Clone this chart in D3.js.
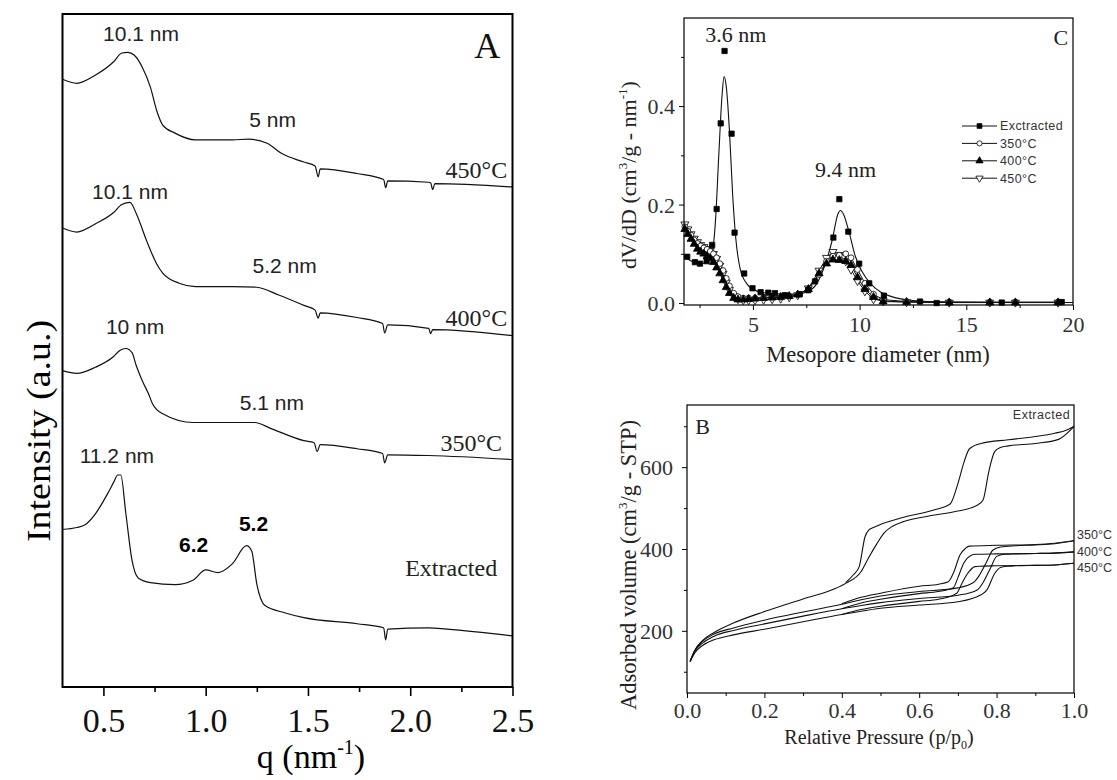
<!DOCTYPE html>
<html><head><meta charset="utf-8">
<script src="https://cdn.jsdelivr.net/npm/d3@7"></script>
<style>body{margin:0;background:#fff}svg{display:block}</style>
</head><body>
<script>
// ---------- Panel A : SAXS (q, intensity a.u., stacked) ----------
const q450 = [0.30,0.37,0.46,0.55,0.59,0.62,0.65,0.69,0.73,0.76,0.79,0.85,0.95,1.13,1.21,1.30,1.37,1.48,1.535,1.55,1.56,1.74,1.87,1.88,1.89,2.09,2.10,2.11,2.12,2.50];
const i450 = [90.3,89.7,90.9,92.9,94.2,94.3,93.9,92.1,89.1,85.7,83.5,82.3,81.3,81.3,81.4,80.8,79.3,78.0,77.4,75.8,77.0,76.3,75.4,74.2,75.2,75.0,74.9,73.9,74.8,74.3];
const q400 = [0.30,0.37,0.46,0.55,0.59,0.63,0.66,0.71,0.76,0.79,0.87,0.95,1.13,1.25,1.36,1.48,1.535,1.55,1.56,1.74,1.865,1.875,1.89,2.09,2.10,2.11,2.50];
const i400 = [68.2,67.6,68.8,70.5,71.7,72.0,70.4,66.4,62.9,61.5,60.0,59.5,59.5,59.4,58.2,56.7,56.0,54.8,55.6,54.9,54.0,52.6,53.8,53.3,52.5,53.1,52.2];
const q350 = [0.30,0.37,0.46,0.55,0.58,0.61,0.64,0.66,0.69,0.72,0.74,0.79,0.94,1.24,1.32,1.48,1.53,1.545,1.56,1.74,1.865,1.875,1.89,2.09,2.50];
const i350 = [47.0,46.6,47.5,49.1,50.0,50.3,49.7,47.8,45.5,43.6,42.1,40.6,39.3,39.3,38.4,36.6,36.3,35.0,36.0,35.4,34.7,33.3,34.5,34.4,33.8];
const qExt = [0.30,0.37,0.41,0.46,0.52,0.55,0.57,0.585,0.61,0.64,0.67,0.73,0.85,0.94,1.00,1.06,1.13,1.20,1.225,1.25,1.29,1.39,1.48,1.74,1.87,1.88,1.89,2.09,2.18,2.50];
const iExt = [23.4,23.7,24.1,25.7,28.7,30.4,31.5,31.5,25.7,18.8,16.2,15.5,15.2,15.9,17.4,17.0,18.3,21.0,20.2,15.3,12.1,11.0,10.3,9.4,8.8,7.0,8.6,8.8,8.6,7.6];
const aTicks = [0.5,1.0,1.5,2.0,2.5];
const aMinor = [0.75,1.25,1.75,2.25];

// ---------- Panel C : pore size distribution ----------
const extD = [1.92,2.28,2.52,2.83,3.09,3.30,3.49,3.67,4.00,4.14,4.59,4.98,5.36,5.72,6.03,6.50,7.20,7.59,7.91,8.77,9.05,9.47,9.98,10.45,11.14,12.83,13.61,16.66,19.47];
const extV = [0.094,0.083,0.080,0.085,0.118,0.191,0.365,0.512,0.344,0.143,0.060,0.030,0.022,0.021,0.020,0.016,0.018,0.026,0.044,0.133,0.211,0.145,0.080,0.040,0.015,0.003,0.000,0.001,0.002];
const fitD = [1.77,2.0,2.3,2.6,2.9,3.1,3.25,3.4,3.55,3.65,3.75,3.9,4.05,4.2,4.4,4.7,5.0,5.5,6.0,7.0,7.5,8.0,8.4,8.7,9.0,9.1,9.25,9.5,9.8,10.1,10.5,11.0,11.5,12.5,14,17,20];
const fitV = [0.095,0.088,0.082,0.080,0.085,0.105,0.17,0.30,0.42,0.46,0.44,0.35,0.22,0.13,0.07,0.04,0.028,0.021,0.019,0.018,0.022,0.040,0.080,0.125,0.183,0.188,0.180,0.145,0.095,0.065,0.040,0.022,0.013,0.005,0.002,0.001,0.001];
const sD = [1.81,1.95,2.1,2.25,2.4,2.55,2.7,2.85,3.0,3.15,3.3,3.45,3.6,3.75,3.9,4.1,4.3,4.55,4.8,5.1,5.5,5.9,6.3,6.7,7.1,7.6,8.1,8.45,8.75,9.05,9.35,9.6,9.9,10.25,10.65,11.1,12.2,14.2,16.1,17.3,19.3];
const s350V = [0.155,0.146,0.138,0.128,0.121,0.116,0.112,0.109,0.105,0.100,0.092,0.080,0.066,0.050,0.035,0.020,0.013,0.010,0.010,0.010,0.011,0.012,0.012,0.014,0.017,0.028,0.058,0.085,0.095,0.097,0.100,0.092,0.068,0.040,0.018,0.007,0.003,0.002,0.002,0.002,0.002];
const s400V = [0.150,0.140,0.130,0.120,0.110,0.104,0.100,0.095,0.090,0.083,0.072,0.060,0.046,0.032,0.020,0.010,0.007,0.007,0.008,0.009,0.010,0.011,0.012,0.014,0.017,0.028,0.060,0.080,0.088,0.087,0.085,0.077,0.052,0.028,0.012,0.003,0.002,0.001,0.001,0.001,0.001];
const s450V = [0.160,0.150,0.140,0.131,0.124,0.118,0.114,0.110,0.106,0.100,0.090,0.076,0.060,0.042,0.027,0.014,0.008,0.006,0.006,0.006,0.007,0.008,0.009,0.012,0.016,0.030,0.066,0.092,0.104,0.098,0.085,0.068,0.045,0.024,0.008,0.004,0.002,0.001,0.001,0.001,0.001];
const cLegend = ["Exctracted","350°C","400°C","450°C"];
const cXTicks = [5,10,15,20], cXMinor = [2.5,7.5,12.5,17.5];
const cYTicks = [0,0.2,0.4], cYMinor = [0.1,0.3,0.5];

// ---------- Panel B : N2 isotherms ----------
const pExtAds = [0.008,0.02,0.04,0.07,0.12,0.2,0.3,0.38,0.41,0.45,0.47,0.49,0.51,0.53,0.56,0.64,0.69,0.75,0.765,0.78,0.795,0.81,0.83,0.9,0.96,0.99,1.0];
const vExtAds = [125,152,176,196,219,247,278,302,316,345,380,412,440,455,467,483,491,507,520,590,638,648,652,658,668,690,700];
const pExtDes = [0.41,0.43,0.445,0.46,0.47,0.48,0.50,0.55,0.64,0.68,0.70,0.715,0.73,0.76,0.83,0.9,0.95,0.98,1.0];
const vExtDes = [318,337,357,430,447,452,460,475,496,510,560,610,645,658,667,675,683,690,700];
const p350Ads = [0.008,0.02,0.04,0.07,0.12,0.2,0.3,0.4,0.45,0.5,0.6,0.7,0.74,0.755,0.775,0.79,0.81,0.85,0.9,0.95,1.0];
const v350Ads = [125,152,174,192,207,226,246,265,276,285,296,305,318,335,370,397,405,408,410,413,420];
const p350Des = [0.40,0.45,0.5,0.6,0.65,0.675,0.69,0.705,0.72,0.73,0.8,0.9,0.95,1.0];
const v350Des = [266,282,292,309,314,320,345,385,402,407,409,411,414,420];
const p400Ads = [0.008,0.02,0.04,0.07,0.12,0.2,0.3,0.4,0.45,0.5,0.6,0.7,0.75,0.765,0.785,0.80,0.82,0.85,0.9,0.95,1.0];
const v400Ads = [125,150,170,187,201,217,236,254,262,269,279,287,300,318,355,382,387,388,389,390,393];
const p400Des = [0.40,0.45,0.5,0.6,0.65,0.688,0.70,0.715,0.735,0.745,0.8,0.9,0.95,1.0];
const v400Des = [254,268,277,291,296,305,330,365,385,387,388,389,390,393];
const p450Ads = [0.008,0.02,0.04,0.07,0.12,0.2,0.3,0.4,0.45,0.5,0.6,0.7,0.76,0.775,0.795,0.81,0.83,0.85,0.9,0.95,1.0];
const v450Ads = [125,146,164,178,190,204,222,240,248,255,263,271,288,300,340,355,358,359,360,361,365];
const p450Des = [0.40,0.45,0.5,0.6,0.65,0.697,0.71,0.725,0.744,0.755,0.8,0.9,0.95,1.0];
const v450Des = [240,252,260,272,277,292,315,340,357,358,359,360,361,365];
const bXTicks = [0,0.2,0.4,0.6,0.8,1.0], bXMinor = [0.1,0.3,0.5,0.7,0.9];
const bYTicks = [200,400,600], bYMinor = [100,300,500,700];

// =====================================================
const SERIF = "'Liberation Serif','Times New Roman',serif";
const SANS = "'Liberation Sans',Arial,sans-serif";
const zip = (a,b) => a.map((v,i)=>[v,b[i]]);
const svg = d3.select("body").append("svg").attr("width",1117).attr("height",780);
svg.append("rect").attr("width",1117).attr("height",780).attr("fill","#fff");

function axes(g, x, y, o) {
  const [x0,x1] = x.range(), [y0,y1] = y.range();
  // bottom
  const b = g.append("g").attr("transform",`translate(0,${y0})`);
  b.call(d3.axisBottom(x).tickValues(o.xt).tickSize(o.maj).tickFormat(o.xf));
  b.call(s=>s.select(".domain").remove());
  b.selectAll(".tick line").attr("stroke","#000").attr("stroke-width",o.tw);
  b.selectAll(".tick text").attr("y",o.xly).attr("dy",null)
    .style("font-family",SERIF).style("font-size",o.fs+"px").attr("fill",o.tc);
  const bm = g.append("g").attr("transform",`translate(0,${y0})`);
  bm.call(d3.axisBottom(x).tickValues(o.xm).tickSize(o.min).tickFormat(""));
  bm.call(s=>s.select(".domain").remove());
  bm.selectAll(".tick line").attr("stroke","#000").attr("stroke-width",o.tw);
  if (o.yt) {
    const l = g.append("g").attr("transform",`translate(${x0},0)`);
    l.call(d3.axisLeft(y).tickValues(o.yt).tickSize(o.maj).tickFormat(o.yf));
    l.call(s=>s.select(".domain").remove());
    l.selectAll(".tick line").attr("stroke","#000").attr("stroke-width",o.tw);
    l.selectAll(".tick text").attr("x",o.ylx).attr("dy","0.35em")
      .style("font-family",SERIF).style("font-size",o.fs+"px").attr("fill",o.tc);
    const lm = g.append("g").attr("transform",`translate(${x0},0)`);
    lm.call(d3.axisLeft(y).tickValues(o.ym).tickSize(o.min).tickFormat(""));
    lm.call(s=>s.select(".domain").remove());
    lm.selectAll(".tick line").attr("stroke","#000").attr("stroke-width",o.tw);
  }
  g.append("rect").attr("x",x0).attr("y",y1).attr("width",x1-x0).attr("height",y0-y1)
    .attr("fill","none").attr("stroke","#000").attr("stroke-width",o.fw);
}
function label(g, txt, x, y, o) {
  return g.append("text").attr("x",x).attr("y",y).text(txt)
    .attr("text-anchor",o.anchor||"middle").style("font-family",o.font||SERIF)
    .style("font-size",o.size+"px").attr("fill",o.fill||"#000")
    .style("font-weight",o.weight||"normal");
}

// ---------------- Panel A ----------------
{
  const g = svg.append("g");
  const x = d3.scaleLinear().domain([0.3,2.5]).range([62.5,512.5]);
  const y = d3.scaleLinear().domain([0,100]).range([687,14]);
  const line = d3.line().x(d=>x(d[0])).y(d=>y(d[1])).curve(d3.curveMonotoneX);
  [[q450,i450],[q400,i400],[q350,i350],[qExt,iExt]].forEach(([a,b])=>{
    g.append("path").attr("d",line(zip(a,b))).attr("fill","none").attr("stroke","#111").attr("stroke-width",1.2);
  });
  axes(g,x,y,{xt:aTicks,xm:aMinor,xf:d3.format(".1f"),maj:9,min:5,tw:1.6,fw:2,fs:34,xly:45,tc:"#111"});
  const sans = {font:SANS,size:21,fill:"#222"};
  label(g,"10.1 nm",x(0.684),y(96.0),sans);
  label(g,"5 nm",x(1.327),y(83.2),sans);
  label(g,"10.1 nm",x(0.630),y(72.5),sans);
  label(g,"5.2 nm",x(1.386),y(61.5),sans);
  label(g,"10 nm",x(0.655),y(52.4),sans);
  label(g,"5.1 nm",x(1.324),y(41.1),sans);
  label(g,"11.2 nm",x(0.566),y(33.3),sans);
  label(g,"6.2",x(0.941),y(20.1),{font:SANS,size:21,fill:"#000",weight:"bold"});
  label(g,"5.2",x(1.234),y(23.2),{font:SANS,size:21,fill:"#000",weight:"bold"});
  label(g,"450°C",x(2.474),y(75.7),{anchor:"end",size:24,fill:"#222"});
  label(g,"400°C",x(2.474),y(53.7),{anchor:"end",size:24,fill:"#222"});
  label(g,"350°C",x(2.449),y(35.0),{anchor:"end",size:24,fill:"#222"});
  label(g,"Extracted",x(2.425),y(16.5),{anchor:"end",size:24,fill:"#222"});
  label(g,"A",x(2.44),y(93.5),{anchor:"end",size:36,fill:"#111"});
  // axis titles
  const xt = g.append("text").attr("x",311).attr("y",768).attr("text-anchor","middle")
    .style("font-family",SERIF).style("font-size","34px");
  xt.append("tspan").text("q (nm");
  xt.append("tspan").text("-1").attr("dy",-14).style("font-size","20px");
  xt.append("tspan").text(")").attr("dy",14);
  g.append("text").attr("transform","translate(50,431) rotate(-90)").attr("text-anchor","middle")
    .style("font-family",SERIF).style("font-size","34px")
    .attr("textLength",222).attr("lengthAdjust","spacingAndGlyphs").text("Intensity (a.u.)");
}

// ---------------- Panel C ----------------
{
  const g = svg.append("g");
  const x = d3.scaleLinear().domain([1.77,20]).range([684,1073]);
  const y = d3.scaleLinear().domain([-0.004,0.579]).range([305,18]);
  const line = d3.line().x(d=>x(d[0])).y(d=>y(d[1]));
  const sym = {
    ext:{t:d3.symbolSquare,s:28,fill:"#000"},
    s350:{t:d3.symbolCircle,s:26,fill:"#fff"},
    s400:{t:d3.symbolTriangle,s:28,fill:"#000"},
    s450:{t:d3.symbolTriangle,s:28,fill:"#fff",rot:180}
  };
  const series = [["s450",sD,s450V],["s350",sD,s350V],["s400",sD,s400V]];
  series.forEach(([k,a,b])=>{
    g.append("path").attr("d",line(zip(a,b))).attr("fill","none").attr("stroke","#111").attr("stroke-width",1);
  });
  g.append("path").attr("d",line.curve(d3.curveMonotoneX)(zip(fitD,fitV))).attr("fill","none").attr("stroke","#111").attr("stroke-width",1.1);
  const drawSym = (k,a,b)=>{
    const s = sym[k];
    g.append("g").selectAll("path").data(zip(a,b)).join("path")
      .attr("d",d3.symbol().type(s.t).size(s.s))
      .attr("transform",d=>`translate(${x(d[0])},${y(d[1])})${s.rot?" rotate(180)":""}`)
      .attr("fill",s.fill).attr("stroke","#000").attr("stroke-width",0.8);
  };
  series.forEach(([k,a,b])=>drawSym(k,a,b));
  drawSym("ext",extD,extV);
  axes(g,x,y,{xt:cXTicks,xm:cXMinor,xf:d3.format("d"),yt:cYTicks,ym:cYMinor,yf:d3.format(".1f"),
    maj:5,min:3,tw:1,fw:1.2,fs:22,xly:27,ylx:-9,tc:"#333"});
  label(g,"3.6 nm",x(4.20),y(0.530),{size:22,fill:"#222"});
  label(g,"9.4 nm",x(9.34),y(0.256),{size:22,fill:"#222"});
  label(g,"C",x(19.77),y(0.524),{anchor:"end",size:22,fill:"#222"});
  // legend
  const keys = ["ext","s350","s400","s450"];
  const leg = g.append("g").attr("transform","translate(962,126)");
  cLegend.forEach((t,i)=>{
    const r = leg.append("g").attr("transform",`translate(0,${i*17.4})`);
    r.append("line").attr("x1",0).attr("x2",35).attr("stroke","#111").attr("stroke-width",1);
    const s = sym[keys[i]];
    r.append("path").attr("d",d3.symbol().type(s.t).size(s.s*0.8))
      .attr("transform",`translate(17.5,0)${s.rot?" rotate(180)":""}`)
      .attr("fill",s.fill).attr("stroke","#000").attr("stroke-width",0.8);
    r.append("text").attr("x",38).attr("dy","0.35em").text(t)
      .style("font-family",SANS).style("font-size","12.5px").style("letter-spacing","0.4px").attr("fill","#333");
  });
  const xt = g.append("text").attr("x",878).attr("y",362).attr("text-anchor","middle")
    .style("font-family",SERIF).style("font-size","22.5px").attr("fill","#222").text("Mesopore diameter (nm)");
  const yt = g.append("text").attr("transform","translate(636,175) rotate(-90)").attr("text-anchor","middle")
    .style("font-family",SERIF).style("font-size","22px").attr("fill","#222");
  yt.append("tspan").text("dV/dD (cm");
  yt.append("tspan").text("3").attr("dy",-9).style("font-size","13px");
  yt.append("tspan").text("/g - nm").attr("dy",9);
  yt.append("tspan").text("-1").attr("dy",-9).style("font-size","13px");
  yt.append("tspan").text(")").attr("dy",9);
}

// ---------------- Panel B ----------------
{
  const g = svg.append("g");
  const x = d3.scaleLinear().domain([0,1]).range([687,1074]);
  const y = d3.scaleLinear().domain([48,752]).range([693,405]);
  const line = d3.line().x(d=>x(d[0])).y(d=>y(d[1])).curve(d3.curveMonotoneX);
  [[pExtAds,vExtAds],[pExtDes,vExtDes],[p350Ads,v350Ads],[p350Des,v350Des],
   [p400Ads,v400Ads],[p400Des,v400Des],[p450Ads,v450Ads],[p450Des,v450Des]].forEach(([a,b])=>{
    g.append("path").attr("d",line(zip(a,b))).attr("fill","none").attr("stroke","#111").attr("stroke-width",1.1);
  });
  axes(g,x,y,{xt:bXTicks,xm:bXMinor,xf:d3.format(".1f"),yt:bYTicks,ym:bYMinor,yf:d3.format("d"),
    maj:5,min:3,tw:1,fw:1.2,fs:22,xly:25,ylx:-14,tc:"#333"});
  label(g,"B",x(0.021),y(682),{anchor:"start",size:22,fill:"#222"});
  const small = {font:SANS,size:12.5,fill:"#333"};
  label(g,"Extracted",x(0.99),y(718),{...small,anchor:"end"}).style("letter-spacing","0.5px");
  label(g,"350°C",x(1.008),y(425),{...small,anchor:"start"});
  label(g,"400°C",x(1.008),y(383),{...small,anchor:"start"});
  label(g,"450°C",x(1.008),y(344),{...small,anchor:"start"});
  const xt = g.append("text").attr("x",879).attr("y",744).attr("text-anchor","middle")
    .style("font-family",SERIF).style("font-size","20px").attr("fill","#222");
  xt.append("tspan").text("Relative Pressure (p/p");
  xt.append("tspan").text("0").attr("dy",5).style("font-size","12px");
  xt.append("tspan").text(")").attr("dy",-5);
  const yt = g.append("text").attr("transform","translate(636,565) rotate(-90)").attr("text-anchor","middle")
    .style("font-family",SERIF).style("font-size","22.5px").attr("fill","#222");
  yt.append("tspan").text("Adsorbed volume (cm");
  yt.append("tspan").text("3").attr("dy",-9).style("font-size","13px");
  yt.append("tspan").text("/g - STP)").attr("dy",9);
}
</script>
</body></html>
